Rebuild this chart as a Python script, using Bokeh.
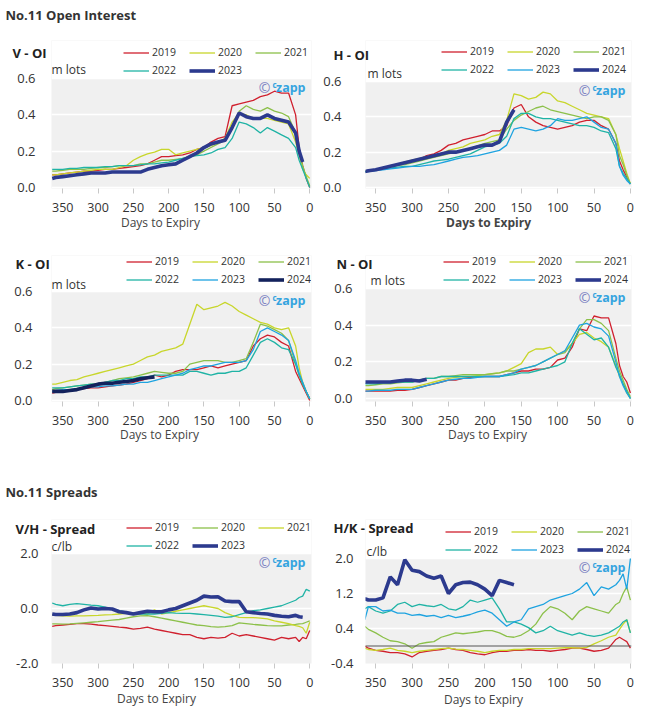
import numpy as np
from bokeh.plotting import figure
from bokeh.models import (Range1d, FixedTicker, NumeralTickFormatter, Label,
                          Legend, LegendItem, Span, BoxAnnotation)
from bokeh.layouts import column, row
from bokeh.embed import file_html
from bokeh.resources import INLINE

# ---------------- data ----------------
DAYS = [365, 360, 350, 340, 330, 320, 310, 300, 290, 280, 270, 260, 250, 240, 230,
        220, 210, 200, 190, 180, 170, 160, 150, 140, 130, 120, 110, 100, 90, 80,
        70, 60, 50, 40, 30, 20, 15, 10, 5, 0]
X_TICKS = [350, 300, 250, 200, 150, 100, 50, 0]
OI_TICKS = [0.0, 0.2, 0.4, 0.6]
VH_TICKS = [-2.0, 0.0, 2.0]
HK_TICKS = [-0.4, 0.4, 1.2, 2.0]

V_OI_2019 = [0.07,0.07,0.075,0.08,0.085,0.09,0.09,0.095,0.10,0.10, 0.105,0.11,0.115,0.12,0.13,0.15,0.17,0.17,0.175,0.18, 0.19,0.21,0.22,0.25,0.27,0.28,0.45,0.46,0.47,0.48, 0.50,0.51,0.53,0.52,0.52,0.40,0.22,0.12,0.05,0.0]
V_OI_2020 = [0.07,0.07,0.075,0.08,0.085,0.09,0.095,0.10,0.10,0.10, 0.11,0.12,0.15,0.17,0.185,0.195,0.21,0.21,0.18,0.19, 0.20,0.21,0.22,0.23,0.25,0.27,0.36,0.41,0.40,0.38, 0.38,0.38,0.37,0.36,0.35,0.25,0.18,0.10,0.07,0.05]
V_OI_2021 = [0.09,0.09,0.095,0.10,0.10,0.10,0.105,0.11,0.11,0.115, 0.12,0.12,0.12,0.13,0.13,0.14,0.15,0.15,0.155,0.16, 0.17,0.18,0.20,0.22,0.24,0.26,0.34,0.42,0.45,0.43, 0.42,0.44,0.42,0.41,0.39,0.30,0.20,0.12,0.06,0.01]
V_OI_2022 = [0.10,0.10,0.10,0.105,0.105,0.11,0.11,0.11,0.115,0.115, 0.12,0.12,0.12,0.125,0.13,0.13,0.135,0.14,0.15,0.16, 0.17,0.175,0.18,0.19,0.21,0.22,0.27,0.36,0.35,0.33, 0.30,0.33,0.31,0.29,0.27,0.22,0.15,0.10,0.05,0.0]
V_OI_2023 = [0.05,0.055,0.06,0.065,0.07,0.075,0.08,0.08,0.08,0.085, 0.085,0.085,0.085,0.085,0.10,0.11,0.12,0.125,0.13,0.15, 0.17,0.19,0.22,0.24,0.25,0.26,0.33,0.41,0.39,0.38, 0.38,0.40,0.38,0.37,0.36,0.30,0.20,0.14,None,None]

H_OI_2019 = [0.09,0.095,0.10,0.11,0.12,0.13,0.14,0.15,0.16,0.18, 0.19,0.21,0.24,0.25,0.27,0.28,0.29,0.30,0.32,0.32, 0.35,0.45,0.47,0.40,0.37,0.35,0.34,0.33,0.34,0.35, 0.37,0.38,0.38,0.35,0.33,0.25,0.15,0.10,0.06,0.02]
H_OI_2020 = [0.09,0.095,0.10,0.11,0.12,0.13,0.145,0.155,0.165,0.175, 0.18,0.19,0.21,0.22,0.23,0.25,0.26,0.27,0.29,0.30, 0.38,0.53,0.52,0.50,0.51,0.54,0.53,0.49,0.48,0.46, 0.44,0.42,0.41,0.40,0.39,0.30,0.22,0.15,0.08,0.02]
H_OI_2021 = [0.09,0.095,0.10,0.11,0.12,0.125,0.13,0.14,0.15,0.16, 0.17,0.18,0.19,0.20,0.21,0.22,0.235,0.25,0.26,0.27, 0.33,0.38,0.41,0.43,0.45,0.46,0.44,0.43,0.42,0.41, 0.40,0.39,0.40,0.40,0.38,0.30,0.18,0.13,0.07,0.02]
H_OI_2022 = [0.09,0.095,0.10,0.105,0.11,0.115,0.12,0.12,0.13,0.14, 0.15,0.155,0.16,0.17,0.18,0.19,0.21,0.23,0.24,0.25, 0.29,0.39,0.42,0.42,0.40,0.39,0.39,0.38,0.37,0.36, 0.35,0.35,0.34,0.32,0.31,0.22,0.12,0.08,0.05,0.02]
H_OI_2023 = [0.09,0.09,0.095,0.10,0.105,0.11,0.115,0.12,0.12,0.125, 0.13,0.14,0.15,0.16,0.17,0.175,0.18,0.19,0.20,0.21, 0.24,0.33,0.34,0.33,0.32,0.33,0.35,0.39,0.38,0.38, 0.39,0.40,0.37,0.34,0.33,0.25,0.12,0.07,0.04,0.02]
H_OI_2024 = [0.09,0.095,0.10,0.11,0.12,0.13,0.14,0.15,0.16,0.17, 0.18,0.19,0.20,0.20,0.21,0.22,0.23,0.24,0.24,0.26, 0.37,0.44] + [None] * 18

K_OI_2019 = [0.04,0.045,0.05,0.055,0.06,0.065,0.07,0.07,0.075,0.08, 0.085,0.09,0.10,0.11,0.12,0.14,0.13,0.14,0.16,0.17, 0.17,0.17,0.18,0.19,0.18,0.19,0.20,0.21,0.22,0.30, 0.34,0.36,0.35,0.32,0.30,0.16,0.12,0.08,0.04,0.0]
K_OI_2020 = [0.09,0.09,0.10,0.11,0.115,0.13,0.14,0.15,0.16,0.17, 0.18,0.19,0.20,0.22,0.24,0.25,0.27,0.28,0.29,0.31, 0.42,0.53,0.50,0.51,0.52,0.54,0.52,0.49,0.47,0.45, 0.43,0.42,0.40,0.39,0.40,0.30,0.18,0.10,0.05,0.01]
K_OI_2021 = [0.06,0.065,0.07,0.075,0.08,0.085,0.09,0.09,0.10,0.11, 0.12,0.125,0.13,0.14,0.15,0.16,0.155,0.15,0.15,0.16, 0.20,0.21,0.22,0.22,0.22,0.21,0.21,0.22,0.23,0.32, 0.42,0.41,0.39,0.37,0.33,0.20,0.14,0.09,0.05,0.01]
K_OI_2022 = [0.07,0.07,0.07,0.075,0.08,0.085,0.09,0.09,0.10,0.11, 0.11,0.12,0.12,0.13,0.13,0.14,0.14,0.14,0.14,0.14, 0.16,0.16,0.15,0.14,0.15,0.15,0.16,0.16,0.18,0.25, 0.32,0.34,0.32,0.29,0.28,0.20,0.14,0.09,0.05,0.01]
K_OI_2023 = [0.05,0.055,0.06,0.06,0.065,0.07,0.075,0.075,0.08,0.08, 0.085,0.09,0.09,0.10,0.10,0.11,0.12,0.13,0.14,0.15, 0.17,0.18,0.19,0.19,0.20,0.21,0.21,0.21,0.22,0.28, 0.38,0.40,0.38,0.36,0.33,0.22,0.15,0.10,0.05,0.01]
K_OI_2024 = [0.05,0.05,0.05,0.055,0.06,0.07,0.08,0.09,0.095,0.095, 0.10,0.105,0.11,0.12,0.125,0.13] + [None] * 24

N_OI_2019 = [0.04,0.04,0.04,0.04,0.04,0.045,0.045,0.05,0.06,0.07, 0.08,0.09,0.10,0.10,0.11,0.115,0.12,0.12,0.12,0.12, 0.13,0.14,0.15,0.15,0.16,0.16,0.17,0.21,0.22,0.28, 0.38,0.37,0.45,0.44,0.44,0.30,0.18,0.12,0.09,0.03]
N_OI_2020 = [0.05,0.05,0.05,0.05,0.055,0.06,0.06,0.06,0.07,0.08, 0.09,0.10,0.11,0.115,0.12,0.12,0.125,0.13,0.135,0.14, 0.15,0.17,0.19,0.25,0.27,0.27,0.28,0.24,0.26,0.30, 0.35,0.36,0.33,0.31,0.28,0.18,0.12,0.08,0.03,0.0]
N_OI_2021 = [0.07,0.07,0.075,0.08,0.08,0.085,0.09,0.09,0.10,0.11, 0.11,0.12,0.12,0.125,0.13,0.13,0.13,0.13,0.135,0.14, 0.15,0.15,0.16,0.17,0.18,0.20,0.22,0.24,0.25,0.30, 0.38,0.43,0.43,0.41,0.37,0.22,0.15,0.10,0.05,0.01]
N_OI_2022 = [0.08,0.08,0.08,0.085,0.085,0.09,0.09,0.09,0.10,0.11, 0.11,0.12,0.12,0.12,0.12,0.12,0.12,0.12,0.12,0.12, 0.125,0.13,0.14,0.14,0.15,0.16,0.17,0.18,0.20,0.30, 0.38,0.35,0.32,0.33,0.28,0.17,0.13,0.08,0.04,0.0]
N_OI_2023 = [0.04,0.04,0.045,0.045,0.045,0.05,0.05,0.05,0.06,0.07, 0.08,0.09,0.10,0.105,0.11,0.11,0.115,0.12,0.12,0.12, 0.13,0.14,0.16,0.17,0.18,0.20,0.22,0.24,0.26,0.33, 0.40,0.41,0.39,0.38,0.34,0.20,0.12,0.07,0.03,0.0]
N_OI_2024 = [0.09,0.09,0.09,0.09,0.09,0.095,0.10,0.10,0.095,0.105] + [None] * 30

VH_2019 = [-0.65,-0.62,-0.6,-0.58,-0.55,-0.55,-0.57,-0.6,-0.62,-0.65, -0.68,-0.7,-0.75,-0.72,-0.68,-0.75,-0.8,-0.85,-0.9,-0.95, -0.95,-1.05,-1.1,-1.05,-1.08,-1.05,-0.9,-1.0,-0.95,-1.0, -1.05,-1.1,-1.15,-1.05,-1.1,-1.05,-1.2,-1.05,-1.1,-0.8]
VH_2020 = [-0.56,-0.56,-0.57,-0.56,-0.54,-0.52,-0.5,-0.48,-0.45,-0.42, -0.4,-0.35,-0.3,-0.27,-0.26,-0.3,-0.35,-0.4,-0.45,-0.5, -0.55,-0.6,-0.62,-0.66,-0.68,-0.66,-0.62,-0.52,-0.55,-0.58, -0.6,-0.62,-0.63,-0.63,-0.6,-0.58,-0.56,-0.55,-0.5,-0.45]
VH_2021 = [-0.23,-0.25,-0.27,-0.28,-0.27,-0.27,-0.26,-0.25,-0.23,-0.22, -0.2,-0.18,-0.15,-0.18,-0.2,-0.05,-0.2,-0.15,-0.1,-0.05, 0.0,0.05,0.1,0.05,0.0,-0.15,-0.25,-0.32,-0.33,-0.33, -0.35,-0.38,-0.45,-0.5,-0.55,-0.62,-0.65,-0.7,-0.9,-0.5]
VH_2022 = [0.2,0.15,0.1,0.15,0.18,0.15,0.12,0.1,0.05,-0.02, -0.08,-0.12,-0.18,-0.2,-0.2,-0.2,-0.18,-0.15,-0.17,-0.18, -0.18,-0.2,-0.22,-0.25,-0.28,-0.32,-0.3,-0.22,-0.15,-0.08, -0.05,0.0,0.05,0.1,0.2,0.3,0.4,0.45,0.7,0.63]
VH_2023 = [-0.2,-0.22,-0.22,-0.2,-0.15,-0.05,0.02,-0.02,0.0,-0.02, -0.12,-0.15,-0.2,-0.15,-0.1,-0.12,-0.12,-0.05,0.0,0.1, 0.2,0.3,0.45,0.42,0.43,0.27,0.25,0.25,-0.12,-0.15, -0.18,-0.2,-0.25,-0.28,-0.3,-0.25,-0.3,-0.32,None,None]

HK_2019 = [0.0,-0.05,-0.1,-0.12,-0.15,-0.15,-0.18,-0.25,-0.15,-0.12, -0.1,-0.08,-0.05,-0.08,-0.1,-0.15,-0.18,-0.2,-0.15,-0.12, -0.12,-0.1,-0.1,-0.08,-0.1,-0.1,-0.12,-0.1,-0.08,-0.05, -0.05,-0.08,-0.12,-0.1,-0.05,0.15,0.2,0.15,0.1,-0.05]
HK_2020 = [-0.05,-0.08,-0.1,-0.08,-0.05,-0.1,-0.12,-0.15,-0.12,-0.1, -0.08,-0.06,-0.05,-0.07,-0.08,-0.1,-0.12,-0.15,-0.12,-0.1, -0.1,-0.08,-0.08,-0.06,-0.06,-0.06,-0.06,-0.05,-0.04,-0.04, -0.05,-0.03,0.05,0.12,0.2,0.25,0.38,0.5,0.6,0.3]
HK_2021 = [0.45,0.38,0.3,0.2,0.12,0.1,0.05,-0.05,0.05,0.08, 0.1,0.2,0.25,0.3,0.28,0.3,0.32,0.35,0.35,0.3, 0.22,0.2,0.25,0.35,0.5,0.75,0.9,0.85,0.75,0.6, 0.8,0.9,0.85,0.8,0.75,0.95,1.0,1.2,1.35,1.05]
HK_2022 = [0.85,0.9,0.8,0.75,0.8,0.95,1.0,0.9,0.95,0.92, 0.9,0.95,0.85,0.82,0.9,1.05,1.0,1.05,1.1,0.85, 0.55,0.55,0.5,0.42,0.3,0.35,0.45,0.35,0.3,0.25, 0.3,0.25,0.22,0.25,0.3,0.4,0.45,0.55,0.6,0.3]
HK_2023 = [0.6,0.9,0.9,0.8,0.82,0.75,0.75,0.7,0.72,0.68, 0.7,0.65,0.7,0.65,0.68,0.72,0.78,0.82,0.75,0.6, 0.45,0.55,0.6,0.85,0.9,0.95,1.05,1.1,1.15,1.2, 1.3,1.45,1.15,1.35,1.3,1.4,1.5,1.65,1.3,2.0]
HK_2024 = [1.08,1.05,1.05,1.1,1.58,1.4,1.97,1.73,1.7,1.6, 1.55,1.6,1.2,1.4,1.45,1.46,1.4,1.3,1.15,1.5, 1.45,1.4] + [None] * 18

# ---------------- styles ----------------
RED = "#d0202e"
YEL = "#c8d62b"
GRN = "#8cc04a"
TEAL = "#1fb3a5"
LBLUE = "#1ea3e0"
NAVY = "#2c3a8e"
DNAVY = "#13225c"
FONT = "Open Sans"
TXT = "#333333"
T, B = 1.3, 3.6

# column geometry: (canvas_left, canvas_width, frame_left, frame_right, x_start, x_end)
COL_L = (0, 318, 51, 311, 366, -2.5)
COL_R = (318, 325, 365, 631, 364, -1.5)
# row geometry: (canvas_top, canvas_height, frame_top, frame_bottom)
ROW_1 = (0, 235, 40, 188)
ROW_2 = (235, 218, 255, 401)
ROW_3 = (453, 259, 519, 663)


def panel(col, rw, anchors, y_ticks, series, legend_at, ystandoff, title, unit,
          xlabel, heading=None, bold_xlabel=False, zero_line=False):
    cl, cw, fl, fr, xs, xe = col
    ct, ch, ft, fb = rw
    v1, p1, v2, p2 = anchors            # value v1 at pixel p1 (top), v2 at p2
    scale = (p2 - p1) / (v1 - v2)
    y_top = v1 + (p1 - ft) / scale
    y_bot = v2 - (fb - p2) / scale
    p = figure(width=cw, height=ch, output_backend="svg", toolbar_location=None,
               x_range=Range1d(xs, xe), y_range=Range1d(y_bot, y_top),
               min_border_left=fl - cl, min_border_right=cl + cw - fr,
               min_border_top=ft - ct, min_border_bottom=ct + ch - fb,
               background_fill_color="#f0f0f0", border_fill_color="white",
               outline_line_color=None)
    # white area above the plotting band (header region inside the frame)
    p.add_layout(BoxAnnotation(bottom=v1, fill_color="white", fill_alpha=1.0,
                               line_color=None, level="underlay"))
    p.xgrid.visible = False
    p.ygrid.grid_line_color = "white"
    p.ygrid.grid_line_width = 1.5
    p.xaxis.ticker = FixedTicker(ticks=X_TICKS)
    p.yaxis.ticker = FixedTicker(ticks=y_ticks)
    p.yaxis.formatter = NumeralTickFormatter(format="0.0")
    for ax in (p.xaxis[0], p.yaxis[0]):
        ax.axis_line_color = None
        ax.minor_tick_line_color = None
        ax.major_label_text_font = FONT
        ax.major_label_text_color = TXT
    p.xaxis.major_label_text_font_size = "12.5px"
    p.yaxis.major_label_text_font_size = "13px"
    p.xaxis.major_tick_line_color = "#c8c8c8"
    p.xaxis.major_tick_in = 0
    p.xaxis.major_tick_out = 5
    p.xaxis.major_label_standoff = 9
    p.yaxis.major_tick_line_color = None
    p.yaxis.major_tick_in = 0
    p.yaxis.major_tick_out = 0
    p.yaxis.major_label_standoff = ystandoff
    if zero_line:
        p.add_layout(Span(location=0, dimension="width", line_color="#555555", line_width=1))
    items = []
    for label, vals, color, lw in series:
        r = p.line(DAYS, np.array(vals, dtype=float), line_color=color, line_width=lw)
        items.append(LegendItem(label=label, renderers=[r]))
    gx, gy = legend_at
    leg_bottom = gy - 7.5 + 33
    p.add_layout(Legend(items=items, location=(gx - fl, fb - leg_bottom),
                        orientation="horizontal", ncols=3, glyph_width=26, glyph_height=15,
                        label_standoff=3, label_width=34, label_height=15, spacing=3,
                        padding=0, margin=0, border_line_alpha=0, background_fill_alpha=0,
                        label_text_font=FONT, label_text_font_size="10.5px",
                        label_text_color=TXT))

    def lab(px, py, text, size, bold=False, color=TXT, align="left", place="center",
            ref=None):
        yref = fb if ref is None else ref
        L = Label(x=px - fl, y=yref - py, x_units="screen", y_units="screen",
                  text=text, text_font=FONT, text_font_size=size,
                  text_font_style="bold" if bold else "normal",
                  text_color=color, text_align=align, text_baseline="middle")
        p.add_layout(L, place)

    # in-frame texts
    ux, uy = unit
    lab(ux, uy, "m lots" if v1 < 1 else "c/lb", "12px")
    gt = p1
    lab(fr - 6, gt + 9, "zapp", "12.5px", True, "#35a4df", "right")
    lab(fr - 35, gt + 6, "c", "8px", True, "#35a4df", "right")
    lab(fr - 41, gt + 9, "\u00a9", "14px", False, "#7b82c2", "right")
    # side texts (title nearest the frame, heading above it)
    tx, ty, ttext = title
    lab(tx, ty, ttext, "13px", True, "#222222", "left", "above", ref=ft)
    if heading is not None:
        hx, hy, htext = heading
        lab(hx, hy, htext, "13px", True, TXT, "left", "above", ref=ft - 18)
    dx, dy = xlabel
    lab(dx, dy, "Days to Expiry", "12px", bold_xlabel, "#444444", "center", "below",
        ref=fb + 44)
    return p


Y5 = ["2019", "2020", "2021", "2022", "2023"]
Y6 = ["2019", "2020", "2021", "2022", "2023", "2024"]


def lines(years, data, colors, widths):
    return list(zip(years, data, colors, widths))


p1 = panel(COL_L, ROW_1, (0.6, 78, 0.0, 187), OI_TICKS,
           lines(Y5, [V_OI_2019, V_OI_2020, V_OI_2021, V_OI_2022, V_OI_2023],
                 [RED, YEL, GRN, TEAL, NAVY], [T, T, T, T, B]),
           (123, 52), 16, (12, 52, "V - OI"), (51, 69), (160, 223),
           heading=(5, 14, "No.11 Open Interest"))

p2 = panel(COL_R, ROW_1, (0.6, 81, 0.0, 187), OI_TICKS,
           lines(Y6, [H_OI_2019, H_OI_2020, H_OI_2021, H_OI_2022, H_OI_2023, H_OI_2024],
                 [RED, YEL, GRN, TEAL, LBLUE, NAVY], [T, T, T, T, T, B]),
           (441, 51), 24, (333, 54, "H - OI"), (367, 73), (488, 223), bold_xlabel=True)

p3 = panel(COL_L, ROW_2, (0.6, 291, 0.0, 400), OI_TICKS,
           lines(Y6, [K_OI_2019, K_OI_2020, K_OI_2021, K_OI_2022, K_OI_2023, K_OI_2024],
                 [RED, YEL, GRN, TEAL, LBLUE, DNAVY], [T, T, T, T, T, B]),
           (126, 261), 19, (15, 263, "K - OI"), (51, 284), (159, 435))

p4 = panel(COL_R, ROW_2, (0.6, 288, 0.0, 398), OI_TICKS,
           lines(Y6, [N_OI_2019, N_OI_2020, N_OI_2021, N_OI_2022, N_OI_2023, N_OI_2024],
                 [RED, YEL, GRN, TEAL, LBLUE, NAVY], [T, T, T, T, T, B]),
           (443, 261), 13, (336, 263, "N - OI"), (370, 280), (487, 435))

p5 = panel(COL_L, ROW_3, (2.0, 553, -2.0, 663), VH_TICKS,
           lines(Y5, [VH_2019, VH_2020, VH_2021, VH_2022, VH_2023],
                 [RED, GRN, YEL, TEAL, NAVY], [T, T, T, T, B]),
           (126, 527), 13, (15, 528, "V/H - Spread"), (51, 546), (156, 699),
           heading=(5, 491, "No.11 Spreads"))

p6 = panel(COL_R, ROW_3, (2.0, 558, -0.4, 663), HK_TICKS,
           lines(Y6, [HK_2019, HK_2020, HK_2021, HK_2022, HK_2023, HK_2024],
                 [RED, YEL, GRN, TEAL, LBLUE, NAVY], [T, T, T, T, T, B]),
           (445, 531), 12, (333, 527, "H/K - Spread"), (366, 551), (483, 700),
           zero_line=True)

layout = column(row(p1, p2), row(p3, p4), row(p5, p6))
open("out.html", "w").write(file_html(layout, INLINE))
